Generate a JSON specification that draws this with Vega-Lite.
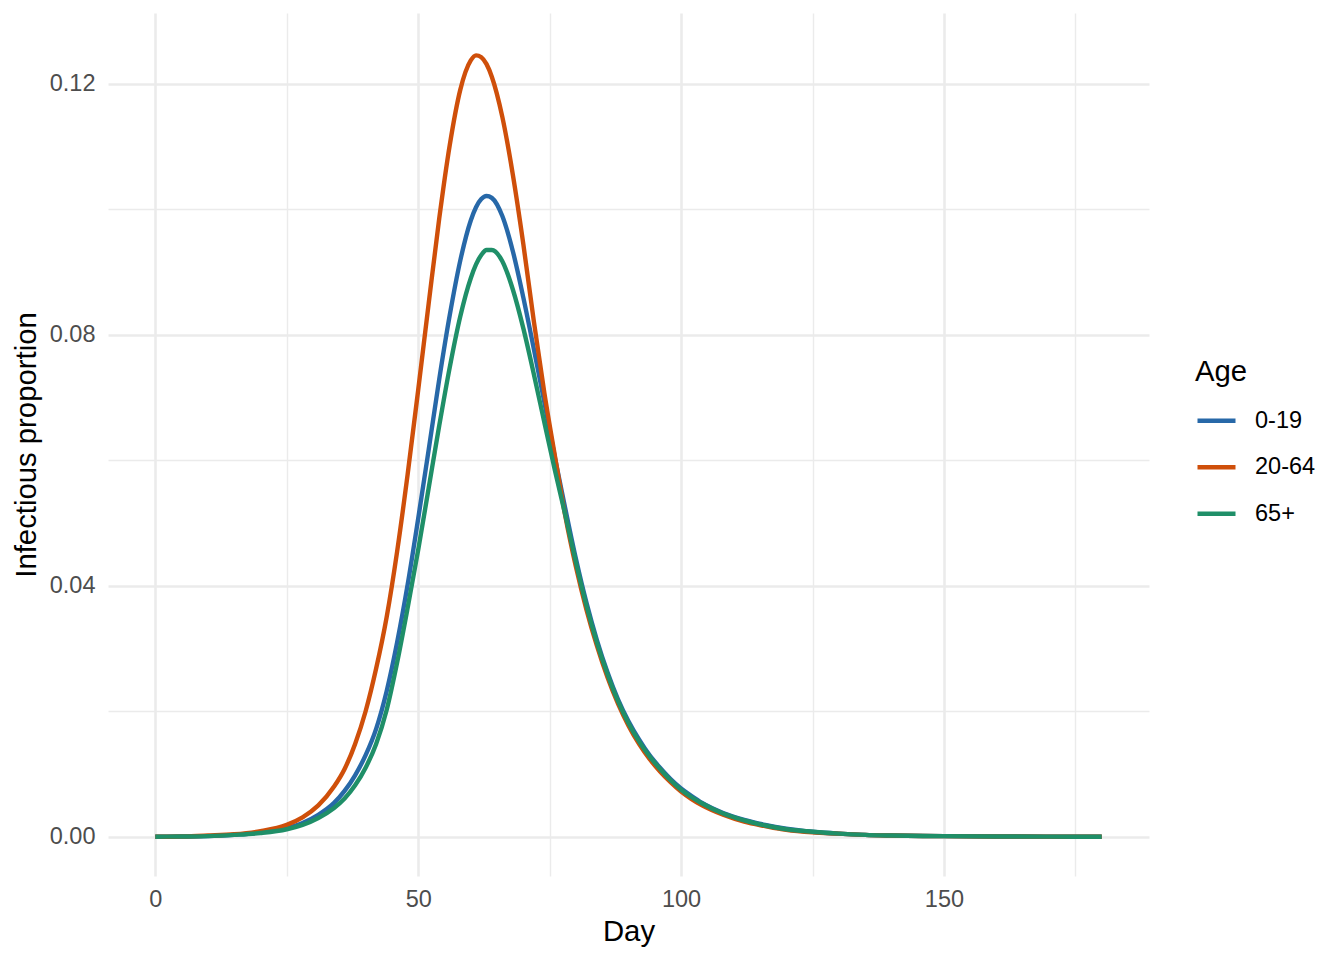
{
  "$schema": "https://vega.github.io/schema/vega-lite/v6.json",
  "description": "Infectious proportion by age group over time",
  "width": 1041,
  "height": 863,
  "autosize": {"type": "none"},
  "padding": {"left": 108, "top": 13, "right": 195, "bottom": 84},
  "background": "white",
  "config": {
    "view": {"stroke": null},
    "font": "Liberation Sans"
  },
  "data": {
    "values": [
      {"day": 0, "0-19": 0.00001, "20-64": 0.00001, "65+": 0.00001},
      {"day": 5, "0-19": 0.00004, "20-64": 0.00005, "65+": 0.00004},
      {"day": 10, "0-19": 0.0001, "20-64": 0.0002, "65+": 0.0001},
      {"day": 15, "0-19": 0.0003, "20-64": 0.0004, "65+": 0.0003},
      {"day": 20, "0-19": 0.0007, "20-64": 0.0009, "65+": 0.0006},
      {"day": 25, "0-19": 0.0014, "20-64": 0.0019, "65+": 0.0012},
      {"day": 28, "0-19": 0.0022, "20-64": 0.0031, "65+": 0.0019},
      {"day": 31, "0-19": 0.0035, "20-64": 0.0050, "65+": 0.0030},
      {"day": 34, "0-19": 0.0054, "20-64": 0.0080, "65+": 0.0046},
      {"day": 36, "0-19": 0.0073, "20-64": 0.0108, "65+": 0.0061},
      {"day": 38, "0-19": 0.0098, "20-64": 0.0148, "65+": 0.0082},
      {"day": 40, "0-19": 0.0130, "20-64": 0.0200, "65+": 0.0110},
      {"day": 42, "0-19": 0.0172, "20-64": 0.0268, "65+": 0.0148},
      {"day": 44, "0-19": 0.0232, "20-64": 0.0350, "65+": 0.0202},
      {"day": 46, "0-19": 0.0310, "20-64": 0.0455, "65+": 0.0278},
      {"day": 48, "0-19": 0.0402, "20-64": 0.0578, "65+": 0.0365},
      {"day": 50, "0-19": 0.0507, "20-64": 0.0712, "65+": 0.0457},
      {"day": 52, "0-19": 0.0617, "20-64": 0.0850, "65+": 0.0556},
      {"day": 54, "0-19": 0.0729, "20-64": 0.0985, "65+": 0.0655},
      {"day": 56, "0-19": 0.0831, "20-64": 0.1102, "65+": 0.0748},
      {"day": 58, "0-19": 0.0918, "20-64": 0.1190, "65+": 0.0829},
      {"day": 60, "0-19": 0.0982, "20-64": 0.1237, "65+": 0.0890},
      {"day": 61, "0-19": 0.1003, "20-64": 0.1245, "65+": 0.0912},
      {"day": 62, "0-19": 0.1016, "20-64": 0.1242, "65+": 0.0927},
      {"day": 63, "0-19": 0.1021, "20-64": 0.1231, "65+": 0.0935},
      {"day": 64, "0-19": 0.1018, "20-64": 0.1211, "65+": 0.0935},
      {"day": 66, "0-19": 0.0989, "20-64": 0.1147, "65+": 0.0917},
      {"day": 68, "0-19": 0.0933, "20-64": 0.1055, "65+": 0.0872},
      {"day": 70, "0-19": 0.0859, "20-64": 0.0944, "65+": 0.0810},
      {"day": 72, "0-19": 0.0777, "20-64": 0.0821, "65+": 0.0737},
      {"day": 74, "0-19": 0.0692, "20-64": 0.0707, "65+": 0.0660},
      {"day": 76, "0-19": 0.0604, "20-64": 0.0607, "65+": 0.0584},
      {"day": 78, "0-19": 0.0522, "20-64": 0.0510, "65+": 0.0512},
      {"day": 80, "0-19": 0.0443, "20-64": 0.0430, "65+": 0.0437},
      {"day": 82, "0-19": 0.0373, "20-64": 0.0362, "65+": 0.0368},
      {"day": 84, "0-19": 0.0313, "20-64": 0.0304, "65+": 0.0309},
      {"day": 86, "0-19": 0.0262, "20-64": 0.0254, "65+": 0.0259},
      {"day": 88, "0-19": 0.0219, "20-64": 0.0212, "65+": 0.0216},
      {"day": 90, "0-19": 0.0184, "20-64": 0.0177, "65+": 0.0181},
      {"day": 92, "0-19": 0.0155, "20-64": 0.0148, "65+": 0.0152},
      {"day": 94, "0-19": 0.0130, "20-64": 0.0124, "65+": 0.0128},
      {"day": 96, "0-19": 0.0110, "20-64": 0.0104, "65+": 0.0108},
      {"day": 98, "0-19": 0.0092, "20-64": 0.0087, "65+": 0.0090},
      {"day": 100, "0-19": 0.0077, "20-64": 0.0072, "65+": 0.0075},
      {"day": 102, "0-19": 0.0065, "20-64": 0.0060, "65+": 0.0063},
      {"day": 104, "0-19": 0.0054, "20-64": 0.0050, "65+": 0.0053},
      {"day": 108, "0-19": 0.0038, "20-64": 0.0035, "65+": 0.0037},
      {"day": 112, "0-19": 0.0027, "20-64": 0.0024, "65+": 0.0026},
      {"day": 116, "0-19": 0.0019, "20-64": 0.0017, "65+": 0.0018},
      {"day": 120, "0-19": 0.0013, "20-64": 0.0011, "65+": 0.0012},
      {"day": 125, "0-19": 0.0008, "20-64": 0.0007, "65+": 0.0008},
      {"day": 130, "0-19": 0.0005, "20-64": 0.0005, "65+": 0.0005},
      {"day": 135, "0-19": 0.0003, "20-64": 0.0003, "65+": 0.0003},
      {"day": 140, "0-19": 0.0002, "20-64": 0.0002, "65+": 0.0002},
      {"day": 150, "0-19": 0.0001, "20-64": 0.0001, "65+": 0.0001},
      {"day": 160, "0-19": 0.00004, "20-64": 0.00004, "65+": 0.00004},
      {"day": 170, "0-19": 0.00002, "20-64": 0.00002, "65+": 0.00002},
      {"day": 180, "0-19": 0.00001, "20-64": 0.00001, "65+": 0.00001}
    ]
  },
  "transform": [
    {"fold": ["0-19", "20-64", "65+"], "as": ["age", "proportion"]}
  ],
  "mark": {"type": "line", "strokeWidth": 4.4, "interpolate": "monotone"},
  "encoding": {
    "x": {
      "field": "day",
      "type": "quantitative",
      "scale": {"domain": [-9, 189], "nice": false, "zero": false},
      "axis": {
        "title": "Day",
        "values": [0, 25, 50, 75, 100, 125, 150, 175],
        "labelExpr": "datum.value % 50 === 0 ? datum.label : ''",
        "domain": false,
        "ticks": false,
        "labelFontSize": 23.5,
        "labelColor": "#4D4D4D",
        "labelPadding": 11,
        "titleFontSize": 29.3,
        "titleFontWeight": "normal",
        "titleColor": "#000000",
        "titlePadding": 7,
        "gridColor": "#EBEBEB",
        "gridWidth": {"condition": {"test": "datum.value % 50 === 0", "value": 2.6}, "value": 1.4}
      }
    },
    "y": {
      "field": "proportion",
      "type": "quantitative",
      "scale": {"domain": [-0.00625, 0.13125], "nice": false, "zero": false},
      "axis": {
        "title": "Infectious proportion",
        "values": [0, 0.02, 0.04, 0.06, 0.08, 0.1, 0.12],
        "labelExpr": "round(datum.value * 100) % 4 === 0 ? format(datum.value, '.2f') : ''",
        "domain": false,
        "ticks": false,
        "labelFontSize": 23.5,
        "labelColor": "#4D4D4D",
        "labelPadding": 13,
        "titleFontSize": 29.3,
        "titleFontWeight": "normal",
        "titleColor": "#000000",
        "titlePadding": 8,
        "gridColor": "#EBEBEB",
        "gridWidth": {"condition": {"test": "round(datum.value * 100) % 4 === 0", "value": 2.6}, "value": 1.4}
      }
    },
    "color": {
      "field": "age",
      "type": "nominal",
      "title": "Age",
      "scale": {"domain": ["0-19", "20-64", "65+"], "range": ["#2768A8", "#CF4F0A", "#1F8F68"]},
      "legend": {
        "orient": "none",
        "legendX": 1087,
        "legendY": 345,
        "symbolType": "stroke",
        "symbolSize": 1444,
        "symbolStrokeWidth": 4.4,
        "titleFontSize": 29.3,
        "titleFontWeight": "normal",
        "titleColor": "#000000",
        "titlePadding": 12,
        "labelFontSize": 23.5,
        "labelColor": "#000000",
        "labelOffset": 17,
        "rowPadding": 13.5
      }
    }
  }
}
